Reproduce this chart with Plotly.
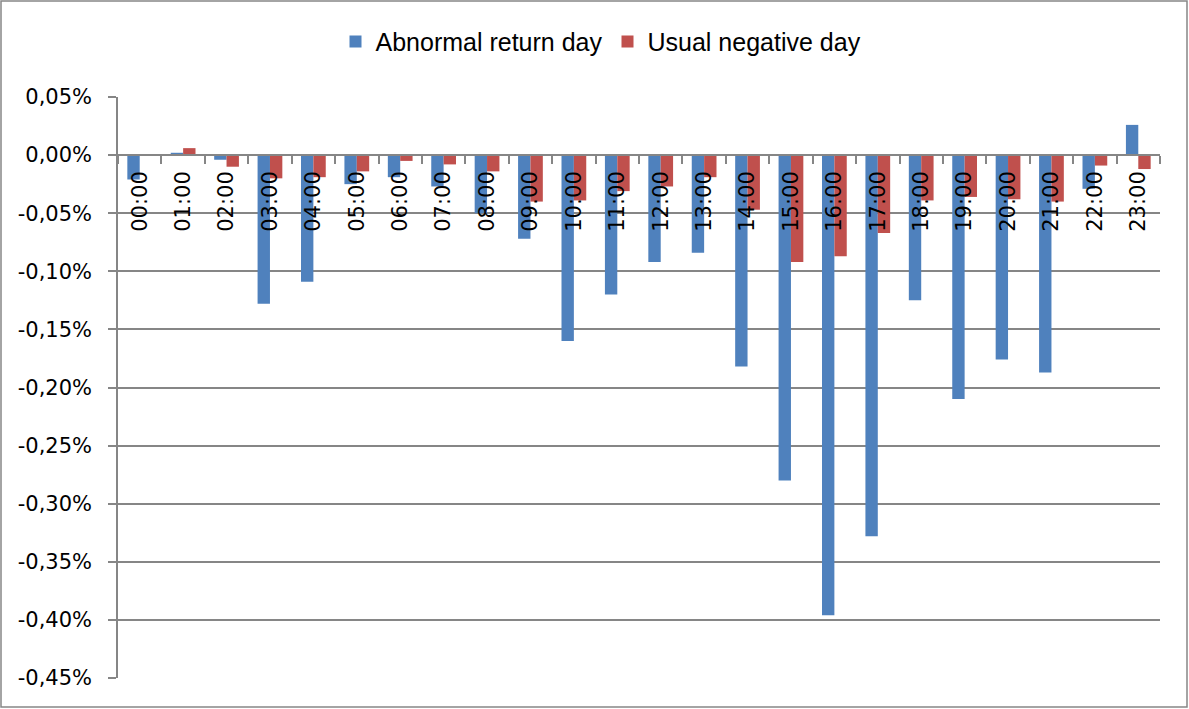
import plotly.graph_objects as go

hours = ["00:00", "01:00", "02:00", "03:00", "04:00", "05:00", "06:00", "07:00",
         "08:00", "09:00", "10:00", "11:00", "12:00", "13:00", "14:00", "15:00",
         "16:00", "17:00", "18:00", "19:00", "20:00", "21:00", "22:00", "23:00"]

# values in percent
abnormal = [-0.021, 0.002, -0.004, -0.128, -0.109, -0.025, -0.019, -0.027,
            -0.050, -0.072, -0.160, -0.120, -0.092, -0.084, -0.182, -0.280,
            -0.396, -0.328, -0.125, -0.210, -0.176, -0.187, -0.029, 0.026]
usual = [0.0003, 0.006, -0.010, -0.020, -0.019, -0.014, -0.005, -0.008,
         -0.014, -0.040, -0.039, -0.031, -0.027, -0.019, -0.047, -0.092,
         -0.087, -0.067, -0.039, -0.036, -0.038, -0.040, -0.009, -0.012]

y_ticks = [0.05, 0.0, -0.05, -0.10, -0.15, -0.20, -0.25, -0.30, -0.35, -0.40, -0.45]

BLUE = "#4F81BD"
RED = "#C0504D"
GRID = "#868686"
FONT = "DejaVu Sans"

fig = go.Figure()
fig.add_trace(go.Bar(x=hours, y=abnormal, name="Abnormal return day",
                     marker=dict(color=BLUE, line=dict(width=0))))
fig.add_trace(go.Bar(x=hours, y=usual, name="Usual negative day",
                     marker=dict(color=RED, line=dict(width=0))))

ymin, ymax = -0.45, 0.05
zero_pos = (0 - ymin) / (ymax - ymin)

L, R, T, B = 118, 29, 97, 31
W, H = 1189, 709
pw, ph = W - L - R, H - T - B

fig.update_layout(
    width=W, height=H,
    margin=dict(l=L, r=R, t=T, b=B),
    paper_bgcolor="white", plot_bgcolor="white",
    barmode="group", bargap=0.43, bargroupgap=0,
    separators=", ",
    font=dict(family=FONT, size=21, color="black"),
    showlegend=True,
    legend=dict(orientation="h", x=(601 - L) / pw, xanchor="center", y=1.095, yanchor="middle",
                font=dict(family="Liberation Sans", size=25, color="black"),
                itemwidth=30, traceorder="normal", itemclick=False),
    xaxis=dict(
        type="category", categoryorder="array", categoryarray=hours,
        anchor="free", position=zero_pos,
        showline=True, linecolor=GRID, linewidth=1.5,
        ticks="outside", ticklen=8, tickcolor=GRID, tickwidth=1.5,
        tickson="boundaries", ticklabelstandoff=7,
        tickangle=-90, tickfont=dict(family=FONT, size=21, color="black"),
        showgrid=False, zeroline=False,
    ),
    yaxis=dict(
        range=[ymin, ymax], tickvals=y_ticks,
        ticktext=[("%.2f%%" % v).replace(".", ",").replace("-0,00", "0,00") for v in y_ticks],
        showline=True, linecolor=GRID, linewidth=1.5, mirror=False,
        ticks="outside", ticklen=8, tickcolor=GRID, tickwidth=1.5,
        ticklabelstandoff=12,
        showgrid=True, gridcolor=GRID, gridwidth=1.5,
        zeroline=False,
        tickfont=dict(family=FONT, size=21, color="black"),
    ),
)

# outer chart border
fig.add_shape(type="rect", xref="paper", yref="paper",
              x0=(1 - L) / pw, x1=(W - 2 - L) / pw,
              y0=(H - B - (H - 2)) / ph, y1=(H - B - 1) / ph,
              line=dict(color=GRID, width=1.5), fillcolor="rgba(0,0,0,0)", layer="below")

fig.write_html("out.html",
               config={"displayModeBar": False},
               post_script="document.body.style.margin='0';document.body.style.overflow='hidden';")
